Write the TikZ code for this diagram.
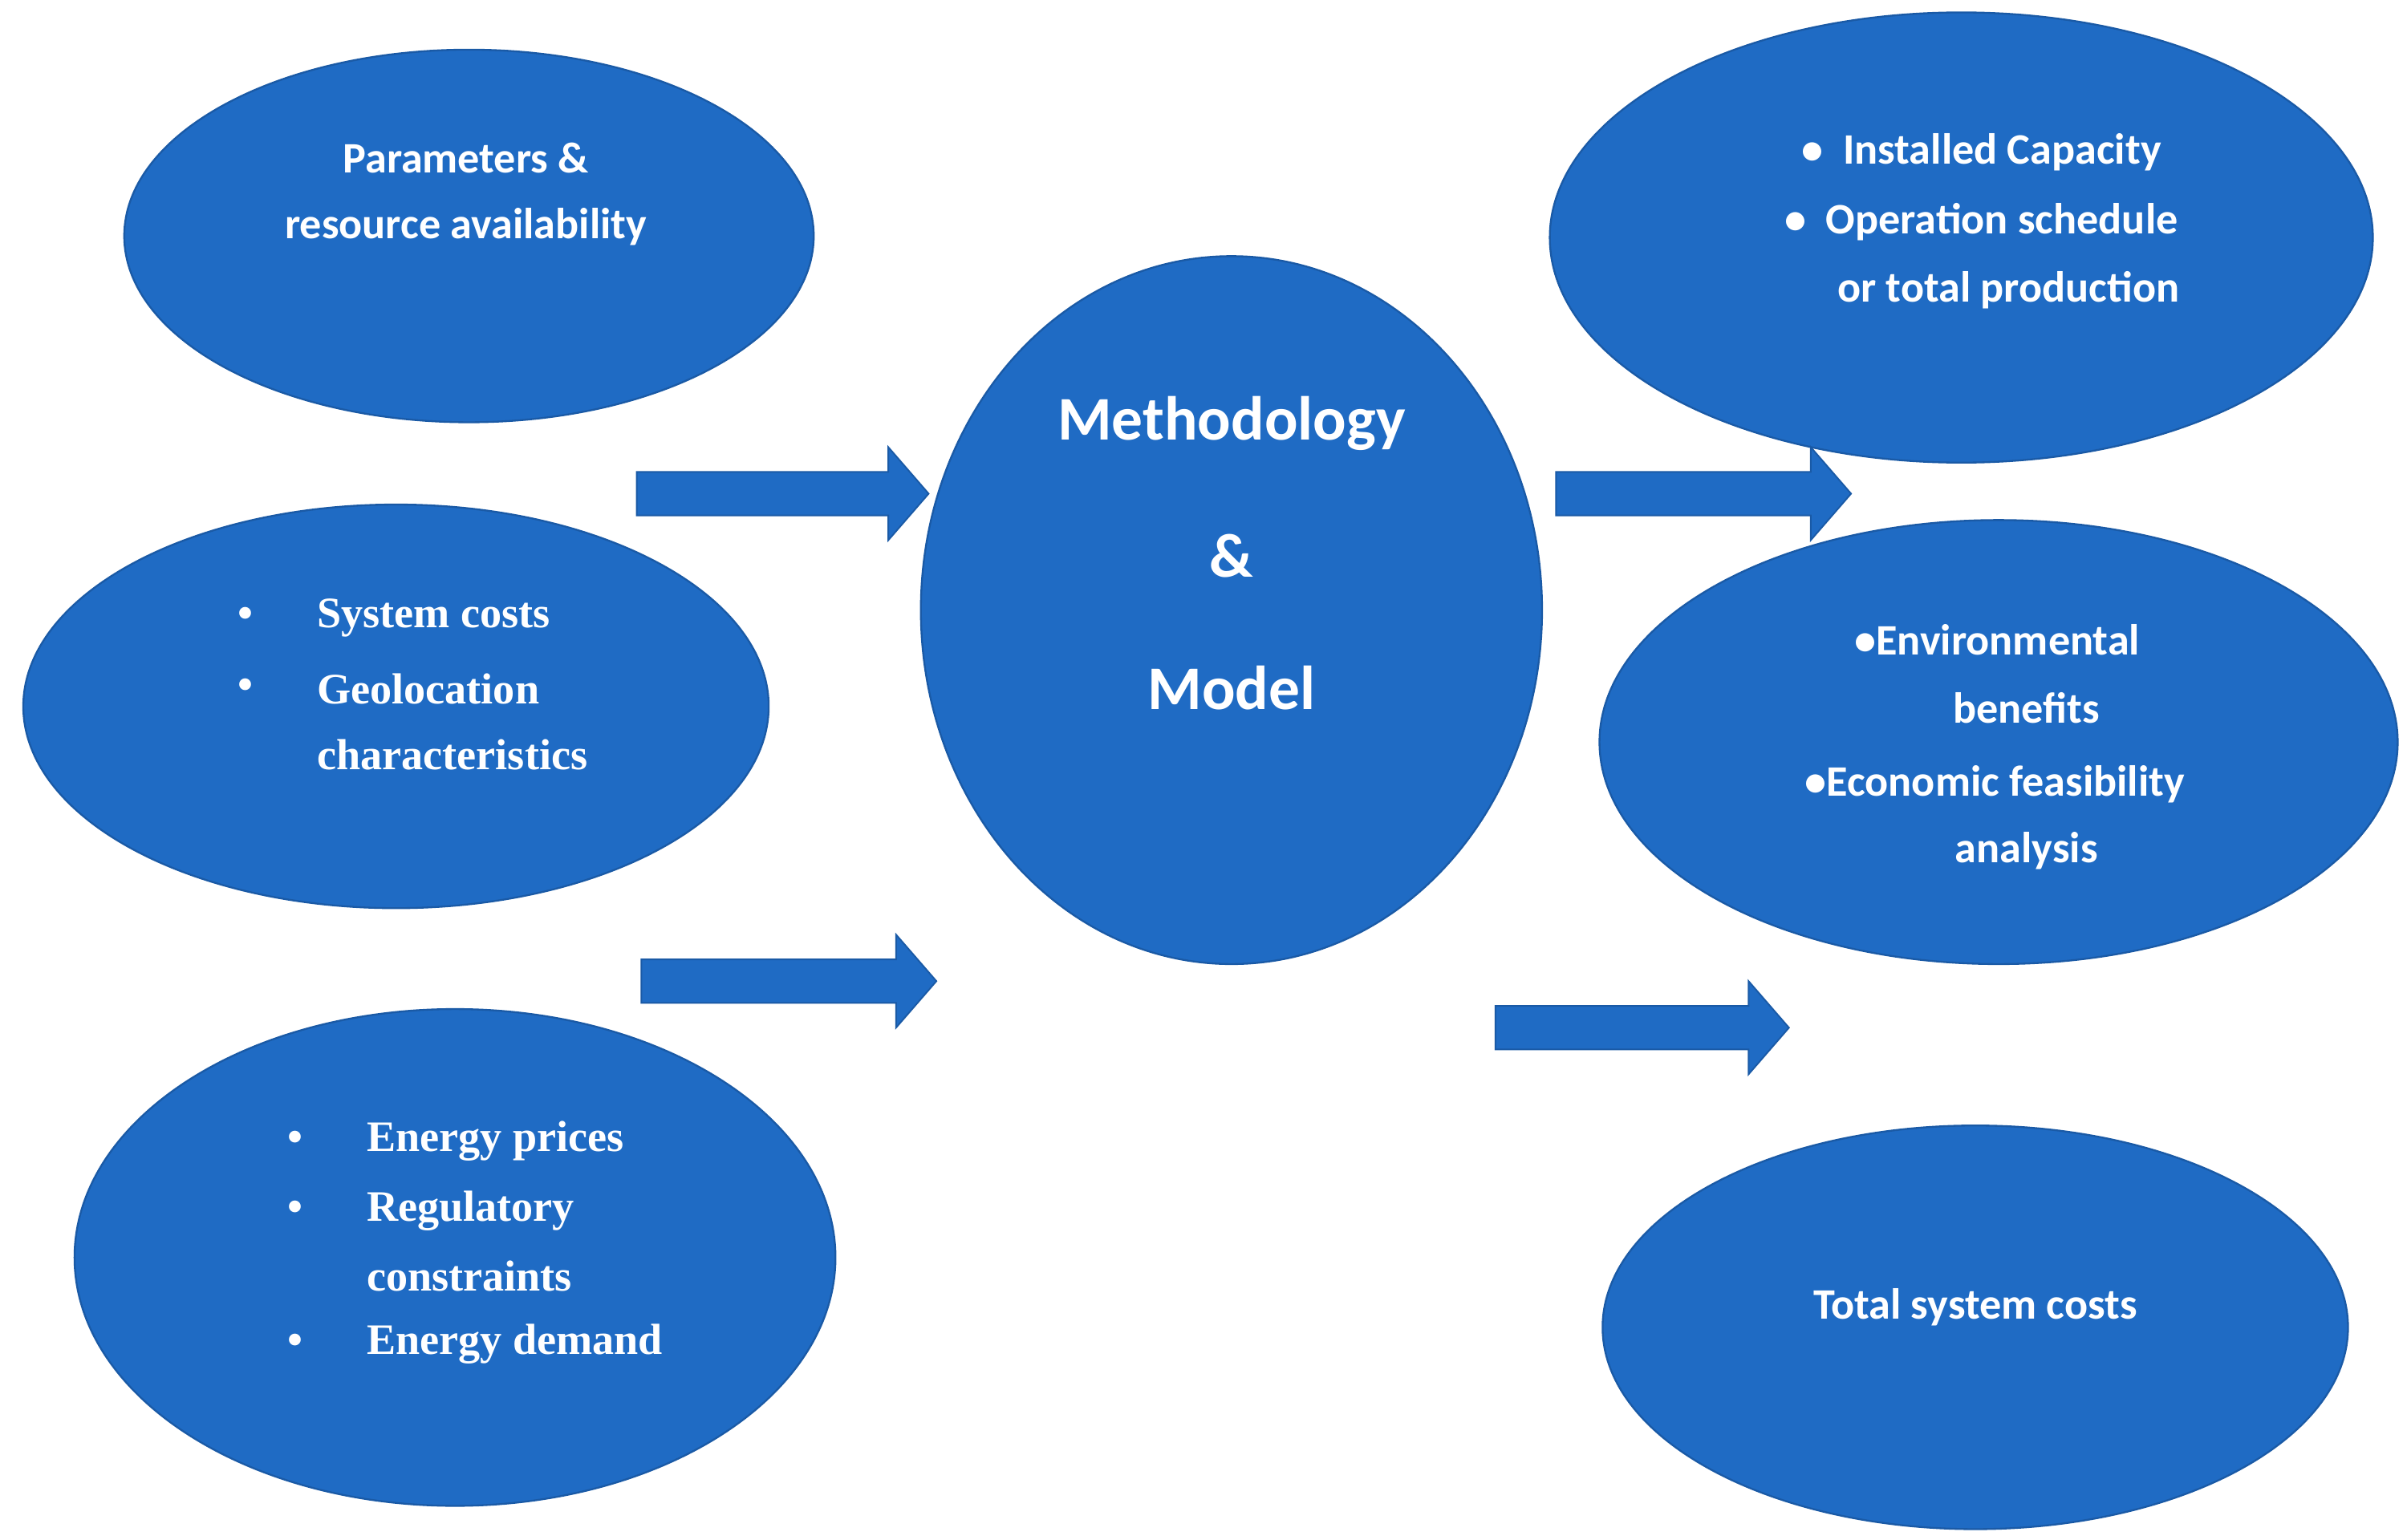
\documentclass[tikz,border=0pt]{standalone}
\usepackage{fontspec}
\setmainfont{Carlito}
\newfontfamily\tms{Liberation Serif}
\begin{document}
\begin{tikzpicture}[x=1pt,y=-1pt,
  ell/.style={ellipse,fill=blueA,draw=blueB,line width=1.2pt},
  txt/.style={text=white,font=\fontsize{28}{32}\selectfont\bfseries,inner sep=0pt},
  ttxt/.style={text=white,font=\tms\fontsize{28}{32}\selectfont\bfseries,inner sep=0pt,anchor=west},
  arr/.style={fill=blueA,draw=blueB,line width=1pt}]
\definecolor{blueA}{HTML}{1F6BC4}
\definecolor{blueB}{HTML}{1A5AA6}
\useasboundingbox[fill=white] (0,0) rectangle (1550,992);
\def\E#1#2#3#4#5{\fill[blueA,draw=blueB,line width=1.2pt] (#2,#3) ellipse [x radius=#4,y radius=#5]; \coordinate (#1) at (#2,#3);}
\E{p}{302}{152}{222}{120}
\E{s}{255}{455}{240}{130}
\E{e}{293}{810}{245}{160}
\E{m}{793}{393}{200}{228}
\E{i}{1263}{153}{265}{145}
\E{v}{1287}{478}{257}{143}
\E{t}{1272}{855}{240}{130}
% arrows
\def\A#1#2#3{\draw[arr] (#1,#3-14) -- (#2-26,#3-14) -- (#2-26,#3-30) -- (#2,#3) -- (#2-26,#3+30) -- (#2-26,#3+14) -- (#1,#3+14) -- cycle;}
\A{410}{598}{318}
\A{413}{603}{632}
\A{1002}{1192}{318}
\A{963}{1152}{662}
% texts
\node[txt] (p1) at (300,102) {Parameters \&};
\node[txt] (p2) at (300,146) {resource availability};
\node[ttxt] (s0) at (153,398) {•};
\node[ttxt] (s1) at (204,398) {System costs};
\node[ttxt] (s0b) at (153,444) {•};
\node[ttxt] (s2) at (204,444) {Geolocation};
\node[ttxt] (s3) at (204,486) {characteristics};
\node[ttxt] (e0) at (185,735) {•};
\node[ttxt] (e1) at (236,735) {Energy prices};
\node[ttxt] (e0b) at (185,780) {•};
\node[ttxt] (e2) at (236,780) {Regulatory};
\node[ttxt] (e3) at (236,822) {constraints};
\node[ttxt] (e0c) at (185,866) {•};
\node[ttxt] (e4) at (236,866) {Energy demand};
\node[txt,font=\fontsize{40}{44}\selectfont\bfseries] (m1) at (793,273) {Methodology};
\node[txt,font=\fontsize{40}{44}\selectfont\bfseries] (m2) at (793,358) {\&};
\node[txt,font=\fontsize{40}{44}\selectfont\bfseries] (m3) at (793,443) {Model};
\node[txt,anchor=west] (i1) at (1160,98) {•\ \ Installed Capacity};
\node[txt,anchor=west] (i2) at (1149,143) {•\ \ Operation schedule};
\node[txt,anchor=west] (i3) at (1183,187) {or total production};
\node[txt,anchor=west] (v1) at (1194,412) {•Environmental};
\node[txt] (v2) at (1305,456) {benefits};
\node[txt,anchor=west] (v3) at (1162,505) {•Economic feasibility};
\node[txt] (v4) at (1305,548) {analysis};
\node[txt] (t1) at (1272,842) {Total system costs};
\end{tikzpicture}
\end{document}
